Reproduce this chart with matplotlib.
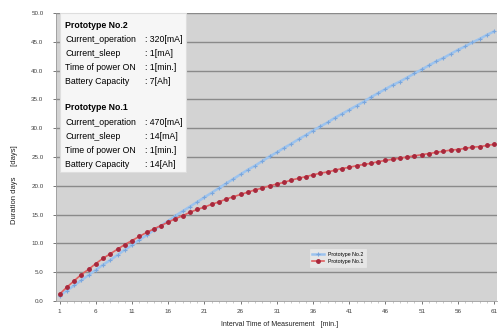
import numpy
import matplotlib
matplotlib.use("Agg")
import matplotlib.pyplot as plt

plt.rcParams["font.family"] = ["Liberation Sans", "DejaVu Sans"]

# measurement interval [min.]
interval = list(range(1, 62))

# Prototype No.2 duration [days]
proto2 = [0.9, 1.8, 2.7, 3.6, 4.5, 5.4, 6.3, 7.1, 8.0, 8.9,
          9.7, 10.6, 11.4, 12.3, 13.1, 13.9, 14.8, 15.6, 16.4, 17.2,
          18.0, 18.8, 19.6, 20.4, 21.2, 22.0, 22.8, 23.5, 24.3, 25.1,
          25.8, 26.6, 27.3, 28.1, 28.8, 29.6, 30.3, 31.0, 31.8, 32.5,
          33.2, 33.9, 34.6, 35.4, 36.1, 36.8, 37.5, 38.1, 38.8, 39.5,
          40.2, 40.9, 41.6, 42.2, 42.9, 43.6, 44.2, 44.9, 45.5, 46.2,
          46.8]

# Prototype No.1 duration [days]
proto1 = [1.2, 2.4, 3.5, 4.6, 5.5, 6.5, 7.4, 8.2, 9.0, 9.8,
          10.5, 11.2, 11.9, 12.5, 13.1, 13.7, 14.3, 14.8, 15.4, 15.9,
          16.3, 16.8, 17.2, 17.7, 18.1, 18.5, 18.9, 19.3, 19.6, 20.0,
          20.3, 20.6, 21.0, 21.3, 21.6, 21.9, 22.2, 22.4, 22.7, 23.0,
          23.2, 23.5, 23.7, 23.9, 24.2, 24.4, 24.6, 24.8, 25.0, 25.2,
          25.4, 25.6, 25.8, 26.0, 26.2, 26.3, 26.5, 26.7, 26.8, 27.0,
          27.2]

xticks = [1, 6, 11, 16, 21, 26, 31, 36, 41, 46, 51, 56, 61]
yticks = [0, 5, 10, 15, 20, 25, 30, 35, 40, 45, 50]

info2 = [("Current_operation", "320[mA]"),
         ("Current_sleep", "1[mA]"),
         ("Time of power ON", "1[min.]"),
         ("Battery Capacity", "7[Ah]")]
info1 = [("Current_operation", "470[mA]"),
         ("Current_sleep", "14[mA]"),
         ("Time of power ON", "1[min.]"),
         ("Battery Capacity", "14[Ah]")]

W, H = 499, 329
fig = plt.figure(figsize=(W / 100, H / 100), dpi=100)
ax = fig.add_axes([56 / W, 1 - 301 / H, (497 - 56) / W, (301 - 13) / H])
ax.set_facecolor("#d3d3d3")

for y in yticks[1:]:
    ax.axhline(y, color="#8a8a8a", lw=1.0, zorder=1)

ax.plot(interval, proto2, color="#9cc3ee", lw=1.8, marker="+", ms=3,
        mew=0.8, mec="#7aa6dc", label="Prototype No.2", zorder=3)
ax.plot(interval, proto1, color="#e06060", lw=1.2, marker="o", ms=2.5,
        mfc="#a8283c", mec="#a8283c", label="Prototype No.1", zorder=4)

ax.set_xlim(0.5, 61.4)
ax.set_ylim(0, 50)
ax.set_xticks(xticks)
ax.set_xticks(interval, minor=True)
ax.set_yticks(yticks)
ax.set_yticklabels([f"{v:.1f}" for v in yticks])
ax.tick_params(axis="both", labelsize=4.5, colors="#404040", length=2, width=0.5)
ax.tick_params(axis="x", which="minor", length=1.5, width=0.4, colors="#a0a0a0")
ax.tick_params(axis="y", pad=7)
ax.tick_params(axis="x", pad=4)
for s in ["top", "right"]:
    ax.spines[s].set_visible(False)
for s in ["left", "bottom"]:
    ax.spines[s].set_color("#9a9a9a")
    ax.spines[s].set_linewidth(0.6)

fig.text(280 / W, 1 - 324 / H, "Interval Time of Measurement   [min.]",
         fontsize=5, ha="center", va="center", color="#202020")
fig.text(15 / W, 1 - 185 / H, "Duration days     [days]", rotation=90,
         fontsize=5.5, ha="center", va="center", color="#202020")

leg = ax.legend(loc="center", bbox_to_anchor=((338 - 56) / (497 - 56), (301 - 258) / 288),
                fontsize=3.8, frameon=True, fancybox=False, handlelength=2.2,
                borderpad=0.5, labelspacing=0.5, edgecolor="#f0f0f0")
leg.get_frame().set_facecolor("#ebebeb")
leg.get_frame().set_linewidth(0.4)

# info box
box = plt.Rectangle((60 / W, 1 - 172 / H), (186 - 60) / W, (172 - 13) / H,
                    transform=fig.transFigure, facecolor="#f6f6f6",
                    edgecolor="#dedede", lw=0.8, zorder=5)
fig.patches.append(box)


def block(y0, title, rows):
    fig.text(65 / W, 1 - y0 / H, title, fontsize=6.3, fontweight="bold",
             va="center", ha="left", color="black", zorder=6)
    for i, (k, v) in enumerate(rows):
        y = y0 + 14.2 * (i + 1)
        fig.text(65 / W, 1 - y / H, k, fontsize=6.3, va="center", ha="left",
                 color="black", zorder=6)
        fig.text(145 / W, 1 - y / H, ": " + v, fontsize=6.3, va="center",
                 ha="left", color="black", zorder=6)


block(25, "Prototype No.2", info2)
block(108, "Prototype No.1", info1)

fig.savefig("out.png", dpi=100)
